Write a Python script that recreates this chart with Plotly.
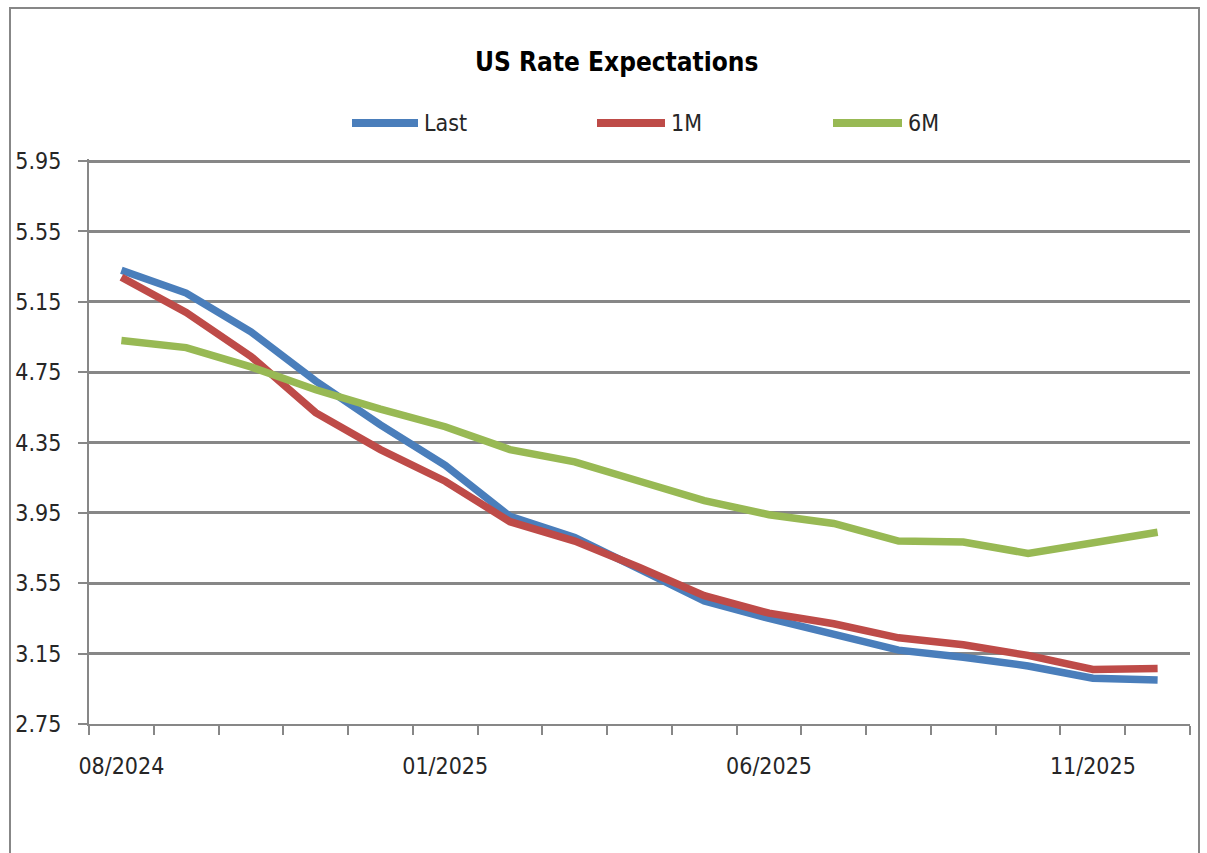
import plotly.graph_objects as go

# Monthly policy-rate path: latest curve vs. one and six months ago
months = ["08/2024", "09/2024", "10/2024", "11/2024", "12/2024", "01/2025",
          "02/2025", "03/2025", "04/2025", "05/2025", "06/2025", "07/2025",
          "08/2025", "09/2025", "10/2025", "11/2025", "12/2025"]
last = [5.33, 5.20, 4.98, 4.70, 4.45, 4.22, 3.93, 3.81, 3.63, 3.45, 3.35,
        3.26, 3.17, 3.13, 3.08, 3.01, 3.00]
one_month = [5.29, 5.09, 4.84, 4.52, 4.31, 4.13, 3.90, 3.79, 3.64, 3.48, 3.38,
             3.32, 3.24, 3.20, 3.14, 3.06, 3.065]
six_month = [4.93, 4.89, 4.78, 4.65, 4.54, 4.44, 4.31, 4.24, 4.13, 4.02, 3.94,
             3.89, 3.79, 3.785, 3.72, 3.785, 3.84]

series_names = ["Last", "1M", "6M"]
series_values = [last, one_month, six_month]
series_colors = ["#4A7EBB", "#BE4B48", "#98B954"]

y_ticks = [2.75, 3.15, 3.55, 3.95, 4.35, 4.75, 5.15, 5.55, 5.95]
x_labels = [m if i % 5 == 0 else "" for i, m in enumerate(months)]

FONT = "DejaVu Sans Condensed, Lato, sans-serif"
GREY = "#878787"

W, H = 1207, 853
L, R, T, B = 89, 17, 159, 129
PW, PH = W - L - R, H - T - B
Y_MIN, Y_MAX = 2.75, 5.962


def px_x(x):
    """Pixel column -> paper x."""
    return (x - L) / PW


def px_y(y):
    """Pixel row -> paper y."""
    return (H - B - y) / PH


fig = go.Figure()
for name, values, color in zip(series_names, series_values, series_colors):
    fig.add_trace(go.Scatter(
        x=months, y=values, name=name, mode="lines",
        line=dict(color=color, width=7.5),
    ))

# Legend row: long swatch followed by the series name
legend_swatch = [(352, 418), (597, 665), (833, 902)]
legend_y = 123
shapes = []
annotations = []
for (x0, x1), name, color in zip(legend_swatch, series_names, series_colors):
    shapes.append(dict(type="line", xref="paper", yref="paper",
                       x0=px_x(x0), x1=px_x(x1), y0=px_y(legend_y),
                       y1=px_y(legend_y), line=dict(color=color, width=8)))
    annotations.append(dict(text=name, xref="paper", yref="paper",
                            x=px_x(x1 + 4), y=px_y(legend_y), xanchor="left",
                            yanchor="middle", showarrow=False,
                            font=dict(family=FONT, size=23, color="#262626")))

# outer chart frame
shapes.append(dict(type="rect", xref="paper", yref="paper",
                   x0=px_x(10), x1=px_x(1199), y0=-0.5, y1=px_y(8),
                   line=dict(color=GREY, width=2), layer="below"))

fig.update_layout(
    width=W, height=H,
    margin=dict(l=L, r=R, t=T, b=B, autoexpand=False),
    paper_bgcolor="white", plot_bgcolor="white",
    font=dict(family=FONT, size=23, color="#262626"),
    title=dict(text="<b>US Rate Expectations</b>", x=0.511, xanchor="center",
               xref="container", y=1 - 62 / H, yref="container",
               yanchor="middle", font=dict(family=FONT, size=26, color="black")),
    showlegend=False,
    shapes=shapes,
    annotations=annotations,
)

fig.update_xaxes(
    type="category", tickmode="array", tickvals=months, ticktext=x_labels,
    tickson="boundaries", ticks="outside", ticklen=9, tickwidth=2,
    tickcolor=GREY, showline=True, linecolor=GREY, linewidth=2,
    showgrid=False, tickangle=0, ticklabelstandoff=20,
    range=[-0.5, len(months) - 0.5],
)
fig.update_yaxes(
    range=[Y_MIN, Y_MAX], tickmode="array", tickvals=y_ticks,
    ticktext=[f"{v:.2f}" for v in y_ticks],
    ticks="outside", ticklen=9, tickwidth=2, tickcolor=GREY,
    showline=True, linecolor=GREY, linewidth=2,
    showgrid=True, gridcolor=GREY, gridwidth=2.5, zeroline=False,
    ticklabelstandoff=12,
)

fig.write_html("out.html")
